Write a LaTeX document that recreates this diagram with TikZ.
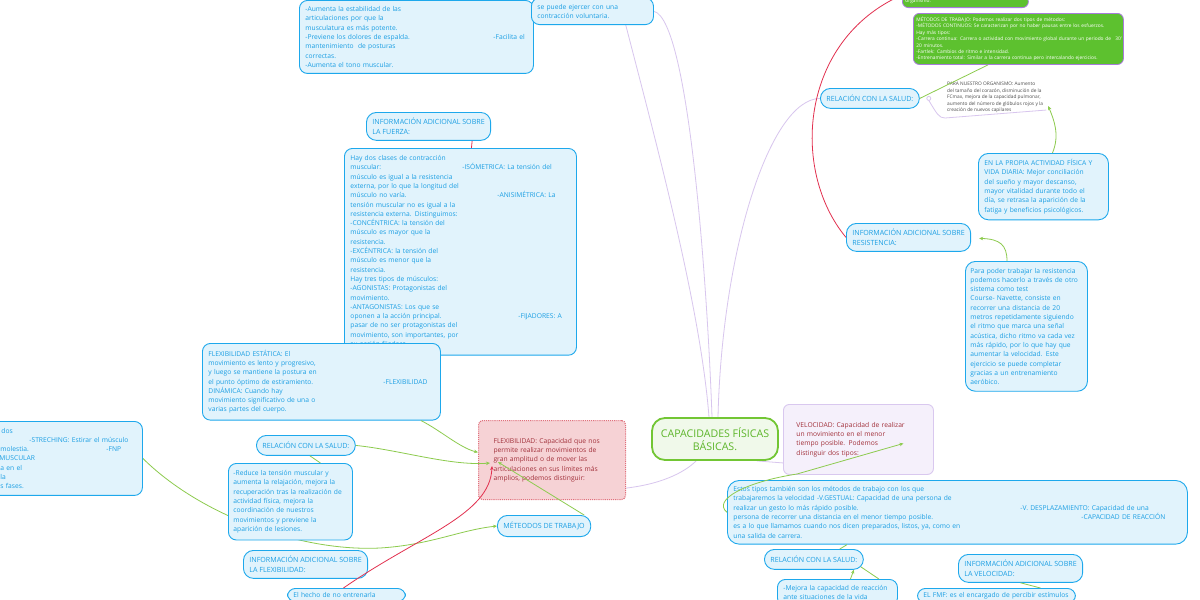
\documentclass[tikz,border=0pt]{standalone}
\usepackage{fontspec}
\setmainfont{Open Sans}
\usepackage{xcolor}
\usetikzlibrary{arrows.meta,positioning,calc}

\pgfdeclarelayer{background}
\pgfsetlayers{background,main}

\definecolor{bluefill}{HTML}{E1F3FC}
\definecolor{bluebd}{HTML}{1DA8EC}
\definecolor{bluetx}{HTML}{1B9EE3}
\definecolor{grnbd}{HTML}{72C634}
\definecolor{grnfill}{HTML}{F0F9EA}
\definecolor{grntx}{HTML}{5DB52A}
\definecolor{flexfill}{HTML}{F6D2D5}
\definecolor{flexbd}{HTML}{E0707C}
\definecolor{redtx}{HTML}{A2313B}
\definecolor{velfill}{HTML}{F5F0FB}
\definecolor{velbd}{HTML}{D9C8EF}
\definecolor{lavcol}{HTML}{D8C6EE}
\definecolor{relgrn}{HTML}{8DCB4E}
\definecolor{relred}{HTML}{E2304F}
\definecolor{gfill}{HTML}{5DC12F}
\definecolor{gbd}{HTML}{A77BDB}

\newcommand{\mfont}{\fontsize{6.7}{9.3}\selectfont}
\newcommand{\capsfont}{\fontsize{7.1}{9.6}\selectfont}
\newcommand{\gfont}{\fontsize{4.85}{6.4}\selectfont}
\newcommand{\sfont}{\fontsize{4.8}{6.5}\selectfont}
\newcommand{\cfont}{\fontsize{10.6}{13}\selectfont}
\newcommand{\rfrag}[2]{\makebox[0pt][l]{\hspace*{#1pt}#2}}

\begin{document}
\begin{tikzpicture}[x=1pt,y=-1pt,
	box/.style={draw=bluebd,fill=bluefill,text=bluetx,line width=0.9pt,rounded corners=8pt,anchor=north west,align=left,inner xsep=6pt,inner ysep=6pt,font=\mfont},
	pill/.style={box,rounded corners=10pt,inner ysep=6.6pt,font=\capsfont},
	tag/.style={box,rounded corners=10pt,inner ysep=5.8pt,font=\capsfont},
	gbox/.style={draw=gbd,fill=gfill,text=white,line width=0.8pt,rounded corners=6pt,align=left,inner xsep=3pt,inner ysep=3.5pt,font=\gfont},
	lavline/.style={draw=lavcol,line width=0.8pt},
	grnline/.style={draw=relgrn,line width=0.8pt},
	grnarrow/.style={grnline,-{Stealth[length=4pt,width=3.5pt]}},
	redarrow/.style={draw=relred,line width=0.8pt,-{Stealth[length=4pt,width=3.5pt]}}]

	\useasboundingbox (0,0) rectangle (1200,600);
	\clip (0,0) rectangle (1200,600);

	\node[box,text width=222] (topL) at (299,0) {-Aumenta la estabilidad de las\\articulaciones por que la\\musculatura es más potente.\\\rfrag{188}{-Facilita el}-Previene los dolores de espalda.\\mantenimiento \ de posturas\\correctas.\\-Aumenta el tono muscular.};

	\node[box,anchor=south west,text width=110] (topM) at (531,25) {se puede ejercer con una\\contracción voluntaria.};

	\node[tag] (infoF) at (366,112) {INFORMACIÓN ADICIONAL SOBRE\\LA FUERZA:};

	\node[box,text width=220,inner ysep=7pt] (fuerza) at (344,148) {Hay dos clases de contracción\\\rfrag{112}{-ISÓMETRICA: La tensión del}muscular:\\músculo es igual a la resistencia\\externa, por lo que la longitud del\\\rfrag{147}{-ANISIMÉTRICA: La}músculo no varía.\\tensión muscular no es igual a la\\resistencia externa. Distinguimos:\\-CONCÉNTRICA: la tensión del\\músculo es mayor que la\\resistencia.\\-EXCÉNTRICA: la tensión del\\músculo es menor que la\\resistencia.\\Hay tres tipos de músculos:\\-AGONISTAS: Protagonistas del\\movimiento.\\-ANTAGONISTAS: Los que se\\\rfrag{168}{-FIJADORES: A}oponen a la acción principal.\\pasar de no ser protagonistas del\\movimiento, son importantes, por\\su acción fijadora.};

	\node[box,text width=226,inner ysep=6.5pt] (flexE) at (202,343) {FLEXIBILIDAD ESTÁTICA: El\\movimiento es lento y progresivo,\\y luego se mantiene la postura en\\\rfrag{175}{-FLEXIBILIDAD}el punto óptimo de estiramiento.\\DINÁMICA: Cuando hay\\movimiento significativo de una o\\varias partes del cuerpo.};

	\node[box,text width=290,inner ysep=6.5pt] (leftbox) at (-160,421) {\rfrag{155}{dos}\\\rfrag{183}{-STRECHING: Estirar el músculo}\\\rfrag{154}{molestia.}\rfrag{260}{-FNP}\\\rfrag{153}{MUSCULAR}\\\rfrag{154}{a en el}\\\rfrag{154}{la}\\\rfrag{154}{s fases.}};

	\node[pill] (relL) at (256,435) {RELACIÓN CON LA SALUD:};

	\node[box,text width=114,inner xsep=5pt,inner ysep=7pt] (reduce) at (228,463) {-Reduce la tensión muscular y\\aumenta la relajación, mejora la\\recuperación tras la realización de\\actividad física, mejora la\\coordinación de nuestros\\movimientos y previene la\\aparición de lesiones.};

	\node[tag] (infoFlex) at (243,550) {INFORMACIÓN ADICIONAL SOBRE\\LA FLEXIBILIDAD:};

	\node[box,text width=106,inner ysep=4pt] (hecho) at (287,588) {El hecho de no entrenarla\\ };

	\node[draw=flexbd,fill=flexfill,text=redtx,line width=1.1pt,densely dotted,rounded corners=4pt,anchor=north west,align=left,text width=117,inner xsep=15pt,minimum width=147,minimum height=79,font=\mfont] (flex) at (478,420) {FLEXIBILIDAD: Capacidad que nos\\permite realizar movimientos de\\gran amplitud o de mover las\\articulaciones en sus límites más\\amplios, podemos distinguir:};

	\node[pill] (metodos) at (497,515) {MÉTEODOS DE TRABAJO};

	\node[draw=grnbd,fill=grnfill,text=grntx,line width=1.8pt,rounded corners=13pt,align=center,minimum width=126,minimum height=42,font=\cfont] (center) at (715,439) {CAPACIDADES FÍSICAS\\BÁSICAS.};

	\node[draw=velbd,fill=velfill,text=redtx,line width=0.9pt,rounded corners=6pt,anchor=north west,align=left,text width=124,inner xsep=13pt,minimum width=150,minimum height=70,font=\mfont] (vel) at (783,404) {VELOCIDAD: Capacidad de realizar\\un movimiento en el menor\\tiempo posible. Podemos\\distinguir dos tipos:};

	\node[box,text width=448,inner ysep=6pt,rounded corners=12pt] (estos) at (727,480) {Estos tipos también son los métodos de trabajo con los que\\trabajaremos la velocidad -V.GESTUAL: Capacidad de una persona de\\\rfrag{287}{-V. DESPLAZAMIENTO: Capacidad de una}realizar un gesto lo más rápido posible.\\\rfrag{348}{-CAPACIDAD DE REACCIÓN}persona de recorrer una distancia en el menor tiempo posible.\\es a lo que llamamos cuando nos dicen preparados, listos, ya, como en\\una salida de carrera.};

	\node[pill] (relB) at (764,549) {RELACIÓN CON LA SALUD:};

	\node[box,text width=108] (mejora) at (777,579) {-Mejora la capacidad de reacción\\ante situaciones de la vida};

	\node[tag] (infoV) at (958,554) {INFORMACIÓN ADICIONAL SOBRE\\LA VELOCIDAD:};

	\node[box,text width=146,inner ysep=4pt] (fmf) at (917,588) {EL FMF: es el encargado de percibir estímulos\\ };

	\node[gbox,anchor=south west,text width=120] (gbox1) at (902,8) {organismo.};

	\node[gbox,anchor=north west,text width=204] (gbox2) at (913,13) {MÉTODOS DE TRABAJO: Podemos realizar dos tipos de métodos:\\-MÉTODOS CONTINUOS: Se caracterizan por no haber pausas entre los esfuerzos.\\Hay más tipos:\\\rfrag{199}{30'}-Carrera continua: Carrera o actividad con movimiento global durante un periodo de\\20 minutos.\\-Fartlek: Cambios de ritmo e intensidad.\\-Entrenamiento total: Similar a la carrera continua pero intercalando ejercicios.};

	\node[pill] (relR) at (820,88) {RELACIÓN CON LA SALUD:};

	\node[anchor=north west,align=left,inner sep=0pt,text=black!70,font=\sfont] (orgT) at (947,82) {PARA NUESTRO ORGANISMO: Aumento\\del tamaño del corazón, disminución de la\\FCmax, mejora de la capacidad pulmonar,\\aumento del número de glóbulos rojos y la\\creación de nuevos capilares};

	\node[box,text width=118,rounded corners=10pt] (propia) at (978,153) {EN LA PROPIA ACTIVIDAD FÍSICA Y\\VIDA DIARIA: Mejor conciliación\\del sueño y mayor descanso,\\mayor vitalidad durante todo el\\día, se retrasa la aparición de la\\fatiga y beneficios psicológicos.};

	\node[tag] (infoR) at (846,223) {INFORMACIÓN ADICIONAL SOBRE\\RESISTENCIA:};

	\node[box,text width=112,inner xsep=5pt,inner ysep=6.5pt,rounded corners=10pt] (resT) at (965,261) {Para poder trabajar la resistencia\\podemos hacerlo a través de otro\\sistema como test\\Course- Navette, consiste en\\recorrer una distancia de 20\\metros repetidamente siguiendo\\el ritmo que marca una señal\\acústica, dicho ritmo va cada vez\\más rápido, por lo que hay que\\aumentar la velocidad. Este\\ejercicio se puede completar\\gracias a un entrenamiento\\aeróbico.};

	\coordinate (offA) at (618,-5);
	\coordinate (offR) at (902,-5);

	\begin{pgfonlayer}{background}
		\fill[white] (0,0) rectangle (1200,600);
		\draw[lavline] (topM.east) .. controls (690,20) and (708,300) .. ($(center.north)+(-3,0)$);
		\draw[lavline] (offA) .. controls (650,120) and (700,300) .. ($(center.north)+(-6,0)$);
		\draw[lavline] (relR.west) .. controls (770,99) and (722,250) .. ($(center.north)+(3,0)$);
		\draw[grnarrow] (leftbox.east) .. controls (200,515) and (300,552) .. (380,548) .. controls (430,545) and (460,530) .. (metodos.west);
		\draw[lavline] ($(center.south west)+(45,0)$) .. controls (685,472) and (660,486) .. ($(flex.south east)+(-11,-11)$) -- ($(flex.south west)+(12,-11)$);
		\draw[lavline] ($(center.south east)+(-22,0)$) .. controls (770,462) and (785,463) .. ($(vel.south west)+(12,-11)$) -- ($(vel.south east)+(-11,-11)$);
	\end{pgfonlayer}

	\draw[grnarrow] ($(flexE.south east)+(-20,0)$) .. controls (440,430) and (460,448) .. (flex.174);
	\draw[grnarrow] (relL.east) .. controls (400,450) and (450,466) .. ($(flex.west)+(12,3)$);
	\draw[grnline] ($(relL.south)+(4,0)$) -- ($(reduce.north)+(30,0)$);
	\draw[grnarrow] ($(metodos.north)+(40,0)$) -- ($(flex.west)+(20,2)$);
	\draw[redarrow] ($(hecho.north)+(-3,0)$) .. controls (420,535) and (490,515) .. ($(flex.west)+(14,6)$);
	\draw[draw=relred,line width=0.8pt] ($(infoF.south east)+(-19,0)$) -- ($(fuerza.north)+(11,0)$);

	\draw[grnarrow] (estos.west) .. controls (712,500) and (745,482) .. (797,474) -- ($(vel.center)+(45,4)$);
	\draw[grnline] ($(relB.north east)+(-24,0)$) -- ($(estos.south west)+(120,0)$);
	\draw[grnarrow] ($(mejora.north)+(13,0)$) -- ($(relB.south)+(40,0)$);
	\draw[grnline] ($(relB.south east)+(-3,-3)$) -- ($(mejora.north east)+(-19,0)$);
	\draw[grnline] ($(infoV.south)+(0,0)$) -- ($(fmf.north)+(44,0)$);

	\draw[grnline] (relR.east) -- ($(gbox2.south west)+(75,0)$);
	\draw[lavline] ($(relR.east)+(9,0)$) circle (2);
	\draw[lavline] ($(relR.east)+(9,2)$) .. controls (937,114) and (939,118) .. (945,118) -- ($(orgT.south east)+(3,-3)$);
	\draw[grnarrow] ($(propia.north)+(9,0)$) .. controls (1060,135) and (1054,120) .. ($(orgT.south east)+(5,-7)$);

	\draw[draw=relred,line width=0.8pt] (offR) .. controls (800,40) and (790,170) .. (infoR.west);
	\draw[grnarrow] ($(resT.north west)+(42,0)$) .. controls (1007,245) and (1000,239) .. ($(infoR.east)+(8,1)$);

\end{tikzpicture}
\end{document}
